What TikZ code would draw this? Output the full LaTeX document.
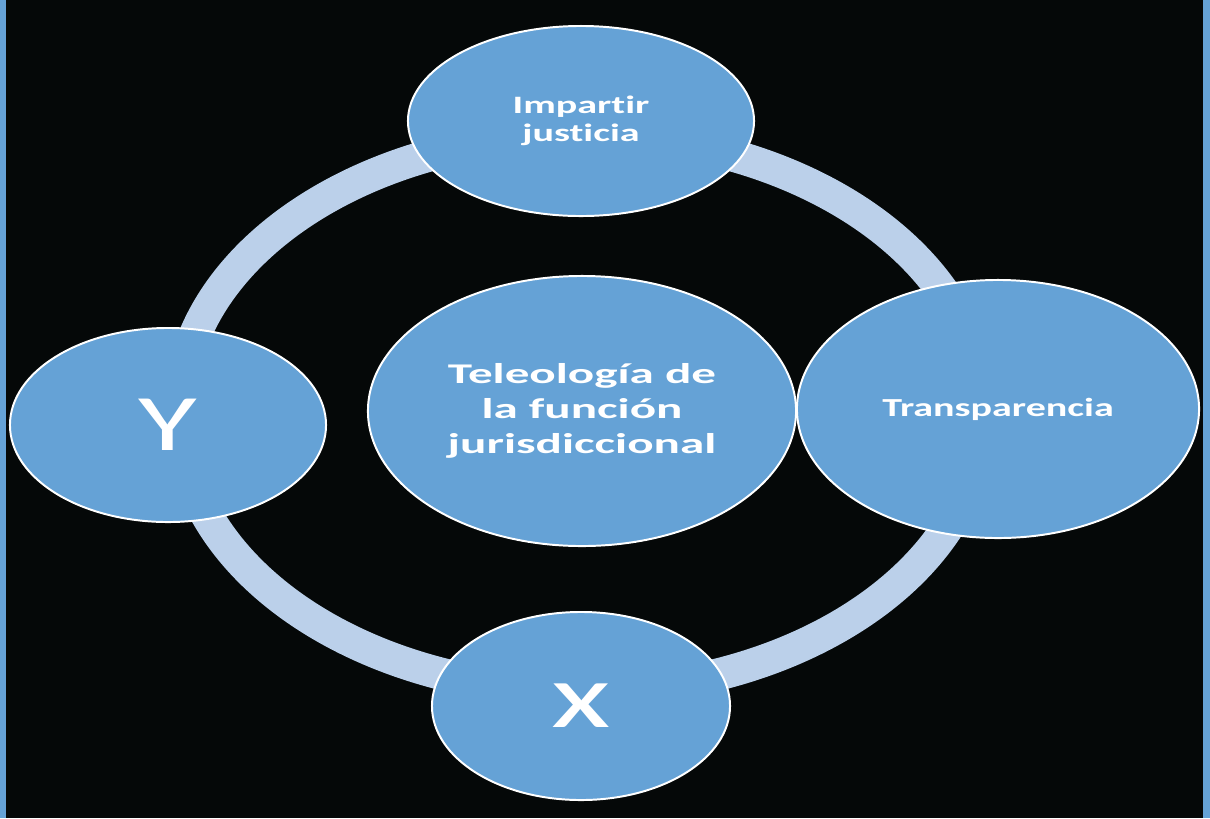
\documentclass[tikz,border=0pt]{standalone}
\usepackage{fontspec}
\usetikzlibrary{shapes.geometric}
\newfontfamily\labA{Carlito}[FakeStretch=1.6, Ligatures=CommonOff]
\newfontfamily\labB{Carlito}[FakeStretch=1.72, Ligatures=CommonOff]
\newfontfamily\labC{Carlito}[FakeStretch=1.54, Ligatures=CommonOff]
\newfontfamily\labD{Carlito}[FakeStretch=1.5, Ligatures=CommonOff]
\definecolor{bg}{HTML}{050808}
\definecolor{nodeblue}{HTML}{65A2D6}
\definecolor{ringblue}{HTML}{BBD0EA}
\begin{document}
\begin{tikzpicture}[x=0.025cm,y=-0.025cm,
  bubble/.style={ellipse, fill=nodeblue, draw=white, line width=1.4pt, inner sep=0pt, text=white, align=center},
  ring/.style={draw=ringblue, line width=23pt}
]
\fill[bg] (0,0) rectangle (1210,818);
\fill[nodeblue] (0,0) rectangle (6,818);
\fill[nodeblue] (1203,0) rectangle (1210,818);
\useasboundingbox (0,0) rectangle (1210,818);
\coordinate (ringc) at (581,413);
\draw[ring] (ringc) ellipse [x radius=10.05cm, y radius=6.95cm];
\node[bubble, minimum width=8.65cm, minimum height=4.75cm,
  font=\labA\bfseries\fontsize{17.8}{20}\selectfont] (top) at (581,121) {Impartir\\justicia};
\node[bubble, minimum width=10.7cm, minimum height=6.75cm,
  font=\labB\bfseries\fontsize{20.3}{25}\selectfont] (center) at (582,411) {Teleología de\\la función\\jurisdiccional};
\node[bubble, minimum width=10.05cm, minimum height=6.45cm,
  font=\labC\bfseries\fontsize{18.5}{22}\selectfont] (right) at (998,409) {Transparencia};
\node[bubble, minimum width=7.9cm, minimum height=4.85cm,
  font=\labD\fontsize{57}{60}\selectfont] (left) at (168,425) {Y};
\node[bubble, minimum width=7.45cm, minimum height=4.7cm,
  font=\labD\fontsize{65}{68}\selectfont] (bottom) at (581,706) {x};
\end{tikzpicture}
\end{document}
